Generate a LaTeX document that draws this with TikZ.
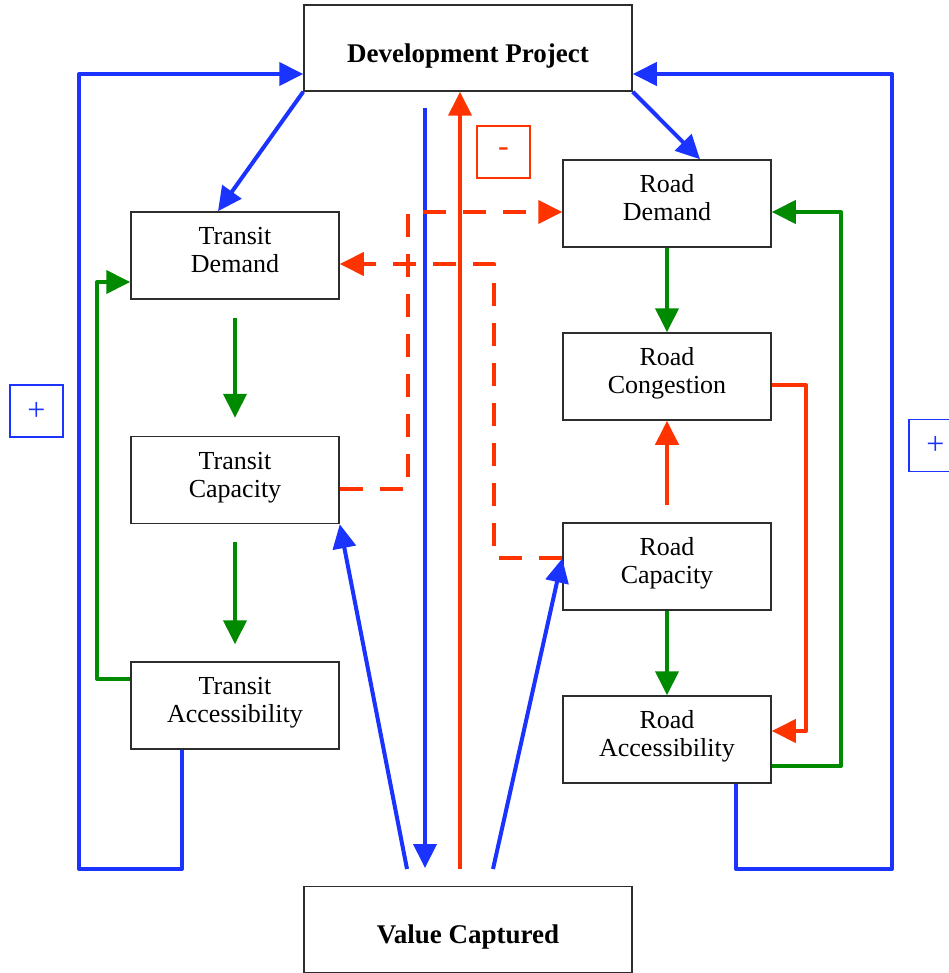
\documentclass[tikz,border=0pt]{standalone}
\usepackage{fontspec}
\setmainfont{Liberation Serif}
\usetikzlibrary{arrows.meta}
\definecolor{cblue}{RGB}{26,51,255}
\definecolor{cred}{RGB}{255,51,0}
\definecolor{cgreen}{RGB}{0,138,0}
\definecolor{cbox}{RGB}{45,45,45}
\newcommand\mybotstrut{\rule[-13pt]{0pt}{13pt}}
\newcommand\mybigstrut{\rule[-5pt]{0pt}{39pt}}
\begin{document}
\begin{tikzpicture}[x=1pt,y=-1pt,
  box/.style={draw=cbox, line width=1.5pt, minimum width=208pt, minimum height=87pt,
    inner sep=0pt, align=center, font=\fontsize{26}{28}\selectfont},
  bigbox/.style={draw=cbox, line width=1.5pt, minimum width=328pt, minimum height=86pt,
    inner sep=0pt, font=\fontsize{27}{28}\selectfont\bfseries},
  signbox/.style={line width=1.2pt, minimum width=53pt, minimum height=52pt, inner sep=0pt,
    font=\fontsize{32}{32}\selectfont},
  conn/.style={line width=4pt, line join=round, -{Triangle[length=24pt,width=23pt]}},
  bl/.style={conn, cblue},
  gr/.style={conn, cgreen},
  rd/.style={conn, cred},
  dsh/.style={conn, cred, dash pattern=on 23pt off 17pt}
]
\useasboundingbox (0,0) rectangle (948,973);

% boxes
\node[bigbox] (dp) at (468,48) {\mybigstrut Development Project};
\node[bigbox] (vc) at (468,929.5) {\mybigstrut Value Captured};

\node[box] (td) at (235,255.5) {\strut Transit\\\mybotstrut Demand};
\node[box] (tc) at (235,480) {\strut Transit\\\mybotstrut Capacity};
\node[box] (ta) at (235,705.5) {\strut Transit\\\mybotstrut Accessibility};

\node[box] (rdm) at (667,203.5) {\strut Road\\\mybotstrut Demand};
\node[box] (rcg) at (667,376.5) {\strut Road\\\mybotstrut Congestion};
\node[box] (rc) at (667,566.5) {\strut Road\\\mybotstrut Capacity};
\node[box] (ra) at (667,739.5) {\strut Road\\\mybotstrut Accessibility};

% sign boxes
\node[signbox, draw=cred, text=cred] (minus) at (503.5,152) {-};
\node[signbox, draw=cblue, text=cblue] (plusl) at (36.5,411) {+};
\node[signbox, draw=cblue, text=cblue] (plusr) at (935.5,445.5) {+};

% coordinates
\coordinate (bll) at (79,869);
\coordinate (brr) at (892,869);
\coordinate (bv1) at (425,108);
\coordinate (bv2) at (425,868);
\coordinate (rv1) at (460,869);
\coordinate (bd1) at (407,869);
\coordinate (bd2) at (493,869);
\coordinate (gl) at (97,282);
\coordinate (grr) at (841,212);
\coordinate (rr) at (806,731);
\coordinate (d1) at (408,212);
\coordinate (d2) at (494,264);

% blue
\draw[bl] ([xshift=-53pt]ta.south) |- (bll) |- ([yshift=-26pt]dp.west);
\draw[bl] ([xshift=69pt]ra.south) |- (brr) |- ([yshift=-26pt]dp.east);
\draw[bl] (dp.south west) -- ([xshift=-17pt]td.north);
\draw[bl] (dp.south east) -- ([xshift=33pt]rdm.north);
\draw[bl] (bv1) -- (bv2);
\draw[bl] (bd1) -- (tc.south east);
\draw[bl] (bd2) -- ([yshift=8pt]rc.west);

% red
\draw[rd] (rv1) -- (rv1 |- dp.south);
\draw[rd] ([yshift=17pt]rc.north) -- (rcg.south);
\draw[rd] ([yshift=-8.5pt]rcg.east) -| (rr) -- ([yshift=8.5pt]ra.east);
\draw[dsh] ([yshift=-9pt]tc.east) -| (d1) -- ([yshift=-8.5pt]rdm.west);
\draw[dsh] ([yshift=8.5pt]rc.west) -| (d2) -- ([yshift=-8.5pt]td.east);

% green
\draw[gr] ([yshift=-18pt]td.south) -- ([yshift=18pt]tc.north);
\draw[gr] ([yshift=-18pt]tc.south) -- ([yshift=17pt]ta.north);
\draw[gr] ([yshift=26.5pt]ta.west) -| (gl) -- ([yshift=-26.5pt]td.west);
\draw[gr] (rdm.south) -- (rcg.north);
\draw[gr] (rc.south) -- (ra.north);
\draw[gr] ([yshift=-26.5pt]ra.east) -| (grr) -- ([yshift=-8.5pt]rdm.east);
\end{tikzpicture}
\end{document}
